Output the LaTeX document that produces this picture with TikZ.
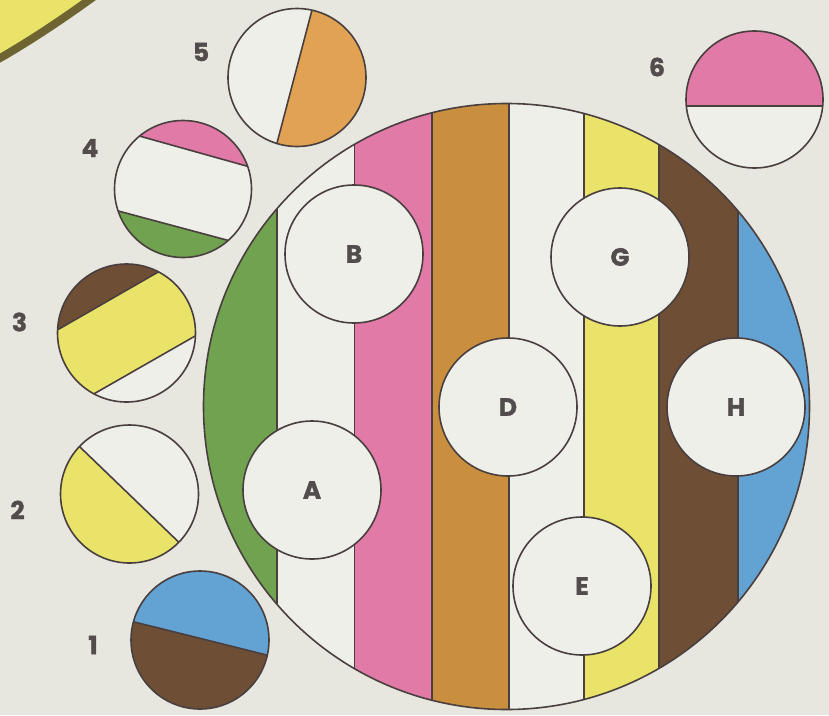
\documentclass[tikz,border=0pt]{standalone}
\usepackage{fontspec}
\newfontfamily\lab{Poppins}[BoldFeatures={FakeBold=1.2}]
\definecolor{bg}{HTML}{E7E7DF}
\definecolor{paper}{HTML}{EFEFEA}
\definecolor{ink}{HTML}{4A3F3F}
\definecolor{txt}{HTML}{524C4C}
\definecolor{cgreen}{HTML}{70A250}
\definecolor{cpink}{HTML}{E27AA8}
\definecolor{corange}{HTML}{C98F3F}
\definecolor{cyellow}{HTML}{EAE36A}
\definecolor{cbrown}{HTML}{6E4E35}
\definecolor{cblue}{HTML}{63A3D3}
\definecolor{corng}{HTML}{E2A253}
\definecolor{olive}{HTML}{6E6432}
\begin{document}
\begin{tikzpicture}[x=1pt,y=-1pt,
  outline/.style={draw=ink,line width=1.6pt},
  disc/.style={circle,draw=ink,line width=1.6pt,fill=paper,minimum size=138pt,inner sep=0pt,
    font=\lab\bfseries\fontsize{25}{25}\selectfont,text=txt},
  num/.style={font=\lab\bfseries\fontsize{25}{25}\selectfont,text=txt,inner sep=0pt}]
\useasboundingbox (0,0) rectangle (829,715);
\fill[bg] (0,0) rectangle (829,715);
% top-left corner
\fill[cyellow] (-5,-5) -- (-5,60) .. controls (30,40) and (60,20) .. (95,-5) -- cycle;
\draw[olive,line width=8pt] (-5,61) .. controls (30,41) and (60,21) .. (96,-5);
% big circle with stripes
\begin{scope}
  \clip (506.5,406.5) circle (303);
  \fill[paper] (180,90) rectangle (830,720);
  \fill[cgreen] (180,90) rectangle (277,720);
  \fill[cpink] (354.5,90) rectangle (432,720);
  \fill[corange] (432,90) rectangle (509,720);
  \fill[cyellow] (584,90) rectangle (659,720);
  \fill[cbrown] (659,90) rectangle (738,720);
  \fill[cblue] (738,90) rectangle (830,720);
  \foreach \x in {277,354.5,432,509,584,659,738}
    \draw[ink,line width=1.8pt] (\x,90) -- (\x,720);
\end{scope}
\draw[outline] (506.5,406.5) circle (303);
% inner discs
\node[disc] (B) at (354,254) {B};
\node[disc] (A) at (312,490) {A};
\node[disc] (D) at (508,407) {D};
\node[disc] (G) at (620,257) {G};
\node[disc] (H) at (736,407) {H};
\node[disc] (E) at (582,586) {E};
% circle 5
\fill[paper] (297,77.5) circle (69);
\begin{scope}
  \clip (297,77.5) circle (69);
  \fill[corng] (319.9,-20) -- (269.1,173) -- (400,173) -- (400,-20) -- cycle;
  \draw[ink,line width=1.6pt] (319.9,-20) -- (269.1,173);
\end{scope}
\draw[outline] (297,77.5) circle (69);
% circle 6
\fill[paper] (754.5,99.5) circle (68.5);
\begin{scope}
  \clip (754.5,99.5) circle (68.5);
  \fill[cpink] (680,20) rectangle (830,106);
  \draw[ink,line width=2pt] (680,106) -- (830,106);
\end{scope}
\draw[outline] (754.5,99.5) circle (68.5);
% circle 4
\fill[paper] (183,189) circle (68.5);
\begin{scope}
  \clip (183,189) circle (68.5);
  \fill[cpink] (100,125) -- (270,172.6) -- (270,100) -- (100,100) -- cycle;
  \fill[cgreen] (100,206.1) -- (270,251.6) -- (270,280) -- (100,280) -- cycle;
  \draw[ink,line width=1.6pt] (100,125) -- (270,172.6);
  \draw[ink,line width=1.6pt] (100,206.1) -- (270,251.6);
\end{scope}
\draw[outline] (183,189) circle (68.5);
% circle 3
\fill[paper] (126.5,333) circle (69);
\begin{scope}
  \clip (126.5,333) circle (69);
  \fill[cbrown] (40,339.9) -- (220,236.5) -- (220,200) -- (40,200) -- cycle;
  \fill[cyellow] (40,339.9) -- (220,236.5) -- (220,321.8) -- (40,424.7) -- cycle;
  \draw[ink,line width=1.6pt] (40,339.9) -- (220,236.5);
  \draw[ink,line width=1.6pt] (40,424.7) -- (220,321.8);
\end{scope}
\draw[outline] (126.5,333) circle (69);
% circle 2
\fill[paper] (129.5,494) circle (69);
\begin{scope}
  \clip (129.5,494) circle (69);
  \fill[cyellow] (40,408.5) -- (220,581.9) -- (220,600) -- (40,600) -- cycle;
  \draw[ink,line width=1.6pt] (40,408.5) -- (220,581.9);
\end{scope}
\draw[outline] (129.5,494) circle (69);
% circle 1
\begin{scope}
  \clip (200,640) circle (69);
  \fill[cblue] (110,615.9) -- (290,660.8) -- (290,550) -- (110,550) -- cycle;
  \fill[cbrown] (110,615.9) -- (290,660.8) -- (290,730) -- (110,730) -- cycle;
  \draw[ink,line width=1.6pt] (110,615.9) -- (290,660.8);
\end{scope}
\draw[outline] (200,640) circle (69);
% numbers
\node[num] (n5) at (201,52) {5};
\node[num] (n4) at (90,148) {4};
\node[num] (n3) at (19.5,322) {3};
\node[num] (n2) at (17.5,510) {2};
\node[num] (n1) at (93,645) {1};
\node[num] (n6) at (657,67) {6};
\end{tikzpicture}
\end{document}
